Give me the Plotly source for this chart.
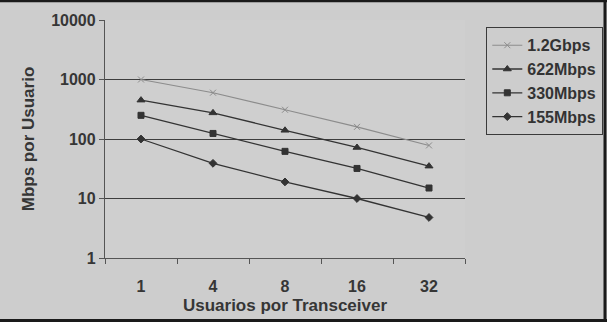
import plotly.graph_objects as go

categories = ["1", "4", "8", "16", "32"]
series_names = ["1.2Gbps", "622Mbps", "330Mbps", "155Mbps"]
v_1g2 = [1000, 600, 310, 160, 78]
v_622 = [450, 275, 140, 72, 35]
v_330 = [250, 124, 62, 32, 15]
v_155 = [100, 39, 19, 10, 4.8]
y_ticks = [1, 10, 100, 1000, 10000]

values = [v_1g2, v_622, v_330, v_155]
symbols = ["x-thin-open", "triangle-up", "square", "diamond"]
colors = ["#8c8c8c", "#333333", "#333333", "#333333"]
sizes = [6, 7, 6, 6]

W, H = 607, 322
L, R, T, B = 105, 142, 20, 64

fig = go.Figure()
for i, (name, vals) in enumerate(zip(series_names, values)):
    fig.add_trace(go.Scatter(
        x=categories, y=vals, name=name, mode="lines+markers",
        legendgroup=name,
        line=dict(color=colors[i], width=1.1 if i == 0 else 1.3),
        marker=dict(symbol=symbols[i], size=sizes[i], color=colors[i],
                    line=dict(color=colors[i], width=1)),
    ))

pw = W - L - R
ph = H - T - B
txt = "#363636"
fig.update_layout(
    width=W, height=H,
    margin=dict(l=L, r=R, t=T, b=B, autoexpand=False),
    paper_bgcolor="#cdcdcd", plot_bgcolor="#cfcfcf",
    font=dict(family="Liberation Sans, Arial, sans-serif", color=txt),
    showlegend=True,
    legend=dict(
        x=(486 - L) / pw, y=(H - B - 27) / ph, xanchor="left", yanchor="top",
        bgcolor="rgba(0,0,0,0)", bordercolor="#3a3a3a", borderwidth=1.3,
        font=dict(size=16, color="#333333", family="Liberation Sans, Arial, sans-serif", weight="bold"),
        tracegroupgap=0, itemwidth=30,
    ),
    xaxis=dict(
        type="category", range=[-0.5, 4.5],
        showline=True, linecolor="#555555", linewidth=1.3,
        ticks="outside", tickson="boundaries", ticklen=5, tickcolor="#555555",
        showgrid=False, zeroline=False, ticklabelstandoff=14,
        tickfont=dict(size=16, color=txt, weight="bold"),
        title=dict(text="Usuarios por Transceiver", standoff=4,
                   font=dict(size=17, color=txt, weight="bold")),
    ),
    yaxis=dict(
        type="log", range=[0, 4], tickvals=y_ticks, ticktext=[str(v) for v in y_ticks],
        showline=True, linecolor="#555555", linewidth=1.3,
        ticks="outside", ticklen=5, tickcolor="#555555",
        showgrid=True, gridcolor="#3e3e3e", gridwidth=1.3, zeroline=False,
        tickfont=dict(size=16, color=txt, weight="bold"),
        title=dict(text="Mbps por Usuario", standoff=12,
                   font=dict(size=17, color=txt, weight="bold")),
    ),
    shapes=[
        dict(type="line", xref="paper", yref="paper",
             x0=-L / pw, x1=(W - L) / pw, y0=(H - B - 1) / ph, y1=(H - B - 1) / ph,
             line=dict(color="#1a1a1a", width=2.5), layer="above"),
        dict(type="line", xref="paper", yref="paper",
             x0=-L / pw, x1=(W - L) / pw, y0=-(B - 1.5) / ph, y1=-(B - 1.5) / ph,
             line=dict(color="#1a1a1a", width=3), layer="above"),
        dict(type="line", xref="paper", yref="paper",
             x0=(W - L - 2) / pw, x1=(W - L - 2) / pw, y0=-B / ph, y1=(H - B) / ph,
             line=dict(color="#1a1a1a", width=3), layer="above"),
    ],
)

fig.write_html("out.html")
